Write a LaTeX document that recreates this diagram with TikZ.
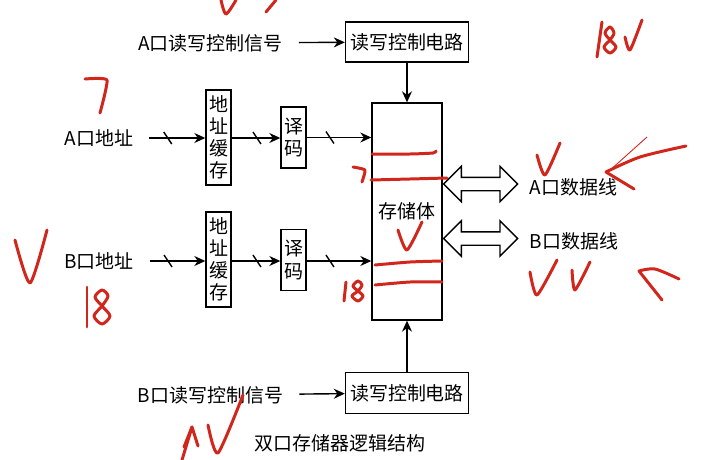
\documentclass[tikz,border=0pt]{standalone}
\usepackage{fontspec}
\setmainfont{Noto Sans CJK SC}
\usetikzlibrary{positioning, shapes.arrows, arrows.meta}
\definecolor{inkred}{RGB}{208,38,28}
\tikzset{
  blk/.style={draw, line width=0.8pt, inner sep=1pt, align=center},
  vblk/.style={blk, minimum width=0.5cm, font=\fontsize{10.8}{12.6}\selectfont},
  bus/.style={line width=0.8pt, ->},
  dbus/.style={double arrow, draw, line width=0.8pt, minimum width=0.68cm,
    minimum height=1.48cm, double arrow head extend=0.22cm, inner xsep=0pt, inner ysep=0.12cm},
  ink/.style={inkred, line width=1.7pt, line cap=round, line join=round}
}
\newcommand{\busmark}[1]{\draw[line width=0.8pt] ([shift={(-4,-6)}]#1) -- ([shift={(4,6)}]#1);}

\begin{document}
\begin{tikzpicture}[>={Stealth[length=0.22cm, width=0.2cm]}, x=0.02cm, y=-0.02cm, font=\fontsize{10.8}{13}\selectfont]
  \useasboundingbox (0,0) rectangle (704,460);
  % blocks
  \node[blk, minimum width=2.46cm, minimum height=0.8cm] (ctlA) at (407,42) {读写控制电路};
  \node[blk, minimum width=2.46cm, minimum height=0.82cm] (ctlB) at (407,393) {读写控制电路};
  \node[blk, minimum width=1.4cm, minimum height=4.34cm] (mem) at (407,211.5) {存储体};
  \node[vblk, minimum height=1.9cm] (bufA) at (218.5,137.5) {地\\址\\缓\\存};
  \node[vblk, minimum height=1.9cm] (bufB) at (218.5,259.5) {地\\址\\缓\\存};
  \node[vblk, minimum height=1.22cm] (decA) at (293.5,137.5) {译\\码};
  \node[vblk, minimum height=1.22cm] (decB) at (293.5,260) {译\\码};
  % labels
  \node (sigA) at (210.5,43) {A口读写控制信号};
  \node (sigB) at (210.5,395) {B口读写控制信号};
  \node (addrA) at (99,138) {A口地址};
  \node (addrB) at (99,261) {B口地址};
  \node (cap) at (340,443) {双口存储器逻辑结构};
  % control
  \draw[bus, shorten <=0.2cm] (sigA) -- (ctlA);
  \draw[bus, shorten <=0.2cm] (sigB) -- (ctlB);
  \draw[bus] (ctlA) -- (mem);
  \draw[bus] (ctlB) -- (mem);
  % address paths
  \draw[bus, shorten <=0.2cm] (addrA.east) -- (addrA.east -| bufA.west) coordinate[pos=.43] (sA1);
  \draw[bus] (bufA.east |- addrA.east) -- (addrA.east -| decA.west) coordinate[pos=.52] (sA2);
  \draw[bus] (decA) -- (decA -| mem.west) coordinate[pos=.36] (sA3);
  \draw[bus, shorten <=0.2cm] (addrB.east) -- (addrB.east -| bufB.west) coordinate[pos=.43] (sB1);
  \draw[bus] (bufB.east |- addrB.east) -- (addrB.east -| decB.west) coordinate[pos=.52] (sB2);
  \draw[bus] (decB.east |- addrB.east) -- (addrB.east -| mem.west) coordinate[pos=.36] (sB3);
  \busmark{sA1} \busmark{sA2} \busmark{sA3}
  \busmark{sB1} \busmark{sB2} \busmark{sB3}
  % data lines
  \node[dbus, anchor=west] (dA) at (mem.east |- 0,184) {};
  \node[dbus, anchor=west] (dB) at (mem.east |- 0,238.5) {};
  \node[right=0.1cm of dA, yshift=-0.06cm] (datA) {A口数据线};
  \node[right=0.1cm of dB, yshift=-0.06cm] (datB) {B口数据线};

  % red marks
  \draw[ink] plot[smooth, tension=.5] coordinates {(221,0) (226,14) (236,0)};
  \draw[ink] (266,12) -- (276,0);
  \draw[ink] plot[smooth, tension=.3] coordinates {(85,79) (107,80) (100,113)};
  \draw[ink] plot[smooth, tension=.4] coordinates {(15,240) (30,283) (47,230)};
  \draw[ink] (87,287) -- (87,327);
  \draw[ink] plot[smooth cycle] coordinates {(102,290) (95,297) (102,306) (110,316) (102,324) (94,316) (102,306) (108,296)};
  \draw[ink] (602,22) -- (597,57);
  \draw[ink] plot[smooth cycle] coordinates {(610,27) (605,33) (610,40) (616,47) (610,53) (604,47) (610,40) (614,33)};
  \draw[ink] plot[smooth, tension=.4] coordinates {(625,37) (630,50) (642,20)};
  \draw[ink] plot[smooth, tension=.4] coordinates {(372,154) (410,154) (433,153) (436,151)};
  \draw[ink] plot[smooth, tension=.4] coordinates {(371,180) (410,179) (447,178)};
  \draw[ink] plot[smooth, tension=.4] coordinates {(375,265) (410,262) (442,261)};
  \draw[ink] plot[smooth, tension=.4] coordinates {(375,285) (410,282) (442,282)};
  \draw[ink] plot[smooth, tension=.3] coordinates {(353,167) (365,170) (362,182)};
  \draw[ink] (346,282) -- (344,301);
  \draw[ink] plot[smooth cycle] coordinates {(358,281) (353,286) (358,291) (363,296) (358,301) (352,296) (358,291) (362,285)};
  \draw[ink] plot[smooth, tension=.4] coordinates {(398,230) (407,250) (422,222)};
  \draw[ink] plot[smooth, tension=.4] coordinates {(537,155) (545,175) (560,143)};
  \draw[ink] plot[smooth, tension=.5] coordinates {(686,146) (640,157) (606,172)} -- (634,189);
  \draw[inkred, line width=0.5pt] (647,137) -- (608,172);
  \draw[ink] plot[smooth, tension=.4] coordinates {(530,272) (537,295) (557,260)};
  \draw[ink] plot[smooth, tension=.4] coordinates {(572,270) (575,290) (590,262)};
  \draw[ink] plot[smooth, tension=.5] coordinates {(679,279) (655,269) (639,271)} -- (662,300);
  \draw[ink] (182,460) -- (192,427);
  \draw[ink] (184,447) -- (192,427) -- (198,446);
  \draw[ink] plot[smooth, tension=.4] coordinates {(208,425) (218,453) (243,395)};
\end{tikzpicture}
\end{document}
